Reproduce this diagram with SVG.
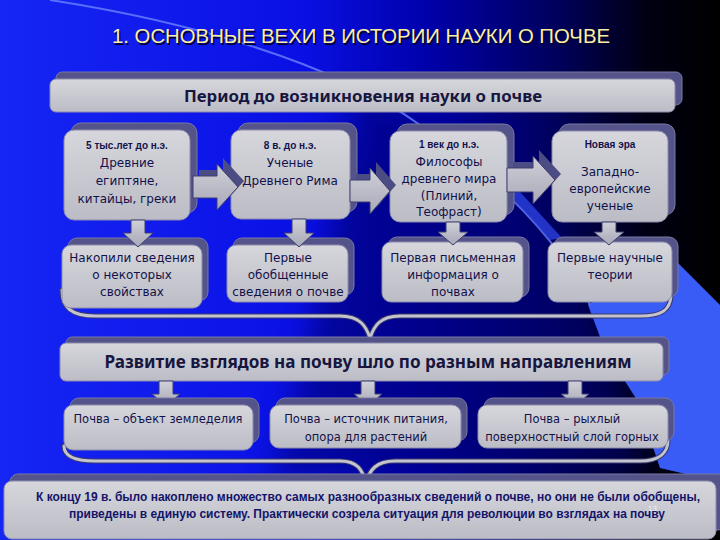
<svg xmlns="http://www.w3.org/2000/svg" width="720" height="540" viewBox="0 0 720 540">
<defs>
  <linearGradient id="bg" x1="0" y1="0" x2="720" y2="0" gradientUnits="userSpaceOnUse">
    <stop offset="0" stop-color="#1626f4"/>
    <stop offset="0.42" stop-color="#0a10e4"/>
    <stop offset="0.6" stop-color="#0000a8"/>
    <stop offset="0.78" stop-color="#000058"/>
    <stop offset="0.9" stop-color="#000012"/>
    <stop offset="1" stop-color="#000000"/>
  </linearGradient>
  <linearGradient id="boxg" x1="0" y1="0" x2="0" y2="1">
    <stop offset="0" stop-color="#d6d6dc"/>
    <stop offset="1" stop-color="#bcbcc6"/>
  </linearGradient>
  <linearGradient id="arrg" x1="0" y1="0" x2="0" y2="1">
    <stop offset="0" stop-color="#d0d0d8"/>
    <stop offset="1" stop-color="#a8a8b8"/>
  </linearGradient>
  <filter id="soft" x="-20%" y="-20%" width="140%" height="140%">
    <feGaussianBlur stdDeviation="14"/>
  </filter>
  <style>
    .box { fill: url(#boxg); stroke: #8c8cac; stroke-width: 1; }
    .sh { fill: #54548a; stroke: #7878a4; stroke-width: 1; }
    .arr { fill: url(#arrg); stroke: #3c3c70; stroke-width: 1; }
    .arrsh { fill: #4c4c84; }
    .brO { fill: none; stroke: #3a3a6c; stroke-width: 5; stroke-linecap: round; stroke-linejoin: round; }
    .brI { fill: none; stroke: #c4c4d0; stroke-width: 3; stroke-linecap: round; stroke-linejoin: round; }
    .t { font-family: "DejaVu Sans", Verdana, sans-serif; font-size: 12px; fill: #12124a; text-anchor: middle; }
    .s { font-family: "DejaVu Sans", Verdana, sans-serif; font-size: 11.5px; fill: #12124a; text-anchor: middle; }
    .d { font-family: "Liberation Sans", Arial, sans-serif; font-size: 10px; font-weight: bold; fill: #12124a; text-anchor: middle; }
    .bn { font-family: "Noto Sans", "Open Sans", sans-serif; font-weight: bold; fill: #16163e; text-anchor: middle; }
    .bt { font-family: "Liberation Sans", Arial, sans-serif; font-weight: bold; font-size: 12px; fill: #14146a; text-anchor: middle; }
  </style>
</defs>

<!-- background -->
<rect x="0" y="0" width="720" height="540" fill="url(#bg)"/>
<path d="M360,90 C470,140 560,230 600,330 L650,470 L270,480 C300,380 330,250 360,90 Z" fill="#000070" opacity="0.55" filter="url(#soft)"/>
<polygon points="588,305 605,350 637,400 660,468 720,482 720,305 665,250" fill="#3a5cf6"/>
<path d="M50,0 C180,20 330,60 420,125 C500,180 560,240 590,305" fill="none" stroke="#6a82ff" stroke-width="2" opacity="0.8"/>
<path d="M505,190 L520,192 L562,238 L550,240 Z" fill="#3048f0" opacity="0.7"/>

<!-- title -->
<g id="title">
  <text x="362.5" y="44.5" font-family="Liberation Sans, Arial, sans-serif" font-size="20" fill="#000030" text-anchor="middle" textLength="498" lengthAdjust="spacingAndGlyphs">1. ОСНОВНЫЕ ВЕХИ В ИСТОРИИ НАУКИ О ПОЧВЕ</text>
  <text x="361" y="43" font-family="Liberation Sans, Arial, sans-serif" font-size="20" fill="#fbeea2" text-anchor="middle" textLength="498" lengthAdjust="spacingAndGlyphs">1. ОСНОВНЫЕ ВЕХИ В ИСТОРИИ НАУКИ О ПОЧВЕ</text>
</g>

<!-- connectors -->
<g id="connectors">
  <path class="brO" d="M62,290 C62,308 72,316 95,316 L340,316 C360,316 366,326 370,338 C374,326 380,316 400,316 L640,316 C662,316 670,310 671,296"/>
  <path class="brI" d="M62,290 C62,308 72,316 95,316 L340,316 C360,316 366,326 370,338 C374,326 380,316 400,316 L640,316 C662,316 670,310 671,296"/>
  <path class="brO" d="M64,446 C64,456 74,461 95,461 L340,461 C358,461 362,470 366,482 C370,470 376,461 395,461 L640,461 C660,461 668,452 668,440"/>
  <path class="brI" d="M64,446 C64,456 74,461 95,461 L340,461 C358,461 362,470 366,482 C370,470 376,461 395,461 L640,461 C660,461 668,452 668,440"/>
</g>

<!-- top banner -->
<g id="period">
  <rect class="sh" x="56" y="72" width="626" height="33" rx="6"/>
  <rect class="box" x="50" y="79" width="625" height="33" rx="6"/>
  <text class="bn" x="363" y="102" font-size="15.5" textLength="358" lengthAdjust="spacingAndGlyphs">Период до возникновения науки о почве</text>
</g>

<!-- row 1 -->
<g id="n1">
  <rect class="sh" x="71" y="123" width="126" height="90" rx="10"/>
  <rect class="box" x="64" y="130" width="126" height="90" rx="10"/>
  <text class="d" x="127" y="149">5 тыс.лет до н.э.</text>
  <text class="t" x="127" y="167">Древние</text>
  <text class="t" x="127" y="185">египтяне,</text>
  <text class="t" x="127" y="203">китайцы, греки</text>
</g>
<g id="n2">
  <rect class="sh" x="238" y="123" width="119" height="89" rx="10"/>
  <rect class="box" x="231" y="130" width="119" height="89" rx="10"/>
  <text class="d" x="290" y="149">8 в. до н.э.</text>
  <text class="t" x="290" y="167">Ученые</text>
  <text class="t" x="290" y="185">Древнего Рима</text>
</g>
<g id="n3">
  <rect class="sh" x="397" y="124" width="117" height="91" rx="10"/>
  <rect class="box" x="390" y="131" width="117" height="91" rx="10"/>
  <text class="d" x="449" y="148">1 век до н.э.</text>
  <text class="t" x="449" y="166">Философы</text>
  <text class="t" x="449" y="183">древнего мира</text>
  <text class="t" x="449" y="200">(Плиний,</text>
  <text class="t" x="449" y="216">Теофраст)</text>
</g>
<g id="n4">
  <rect class="sh" x="559" y="124" width="116" height="91" rx="10"/>
  <rect class="box" x="552" y="131" width="116" height="91" rx="10"/>
  <text class="d" x="610" y="148">Новая эра</text>
  <text class="t" x="610" y="176">Западно-</text>
  <text class="t" x="610" y="193">европейские</text>
  <text class="t" x="610" y="210">ученые</text>
</g>

<!-- row 2 -->
<g id="m1">
  <rect class="sh" x="68" y="238" width="140" height="63" rx="9"/>
  <rect class="box" x="62" y="245" width="140" height="63" rx="9"/>
  <text class="t" x="132" y="262">Накопили сведения</text>
  <text class="t" x="132" y="279">о некоторых</text>
  <text class="t" x="132" y="296">свойствах</text>
</g>
<g id="m2">
  <rect class="sh" x="233" y="238" width="121" height="57" rx="9"/>
  <rect class="box" x="227" y="245" width="121" height="57" rx="9"/>
  <text class="t" x="288" y="262">Первые</text>
  <text class="t" x="288" y="279">обобщенные</text>
  <text class="t" x="288" y="296">сведения о почве</text>
</g>
<g id="m3">
  <rect class="sh" x="388" y="237" width="141" height="60" rx="9"/>
  <rect class="box" x="382" y="242" width="141" height="60" rx="9"/>
  <text class="t" x="453" y="262">Первая письменная</text>
  <text class="t" x="453" y="279">информация о</text>
  <text class="t" x="453" y="296">почвах</text>
</g>
<g id="m4">
  <rect class="sh" x="554" y="237" width="124" height="60" rx="9"/>
  <rect class="box" x="548" y="242" width="124" height="60" rx="9"/>
  <text class="t" x="610" y="262">Первые научные</text>
  <text class="t" x="610" y="279">теории</text>
</g>

<!-- arrows row 1 -->
<g id="arrows">
  <path class="arrsh" d="M199,170 H223 V158 L244,181 L223,204 V192 H199 Z"/>
  <path class="arr" d="M193,176 H217 V164 L238,187 L217,210 V198 H193 Z"/>
  <path class="arrsh" d="M356,174 H376 V162 L396,185 L376,208 V196 H356 Z"/>
  <path class="arr" d="M350,180 H370 V168 L390,191 L370,214 V202 H350 Z"/>
  <path class="arrsh" d="M513,162 H539 V150 L561,174 L539,198 V186 H513 Z"/>
  <path class="arr" d="M507,168 H533 V156 L555,180 L533,204 V192 H507 Z"/>
  <path class="arr" d="M131,220 H145 V233 H153 L138,247 L123,233 H131 Z"/>
  <path class="arr" d="M292,219 H306 V233 H314 L299,247 L284,233 H292 Z"/>
  <path class="arr" d="M446,222 H460 V232 H468 L453,245 L438,232 H446 Z"/>
  <path class="arr" d="M602,222 H616 V232 H624 L609,245 L594,232 H602 Z"/>
</g>

<!-- middle banner -->
<g id="directions">
  <rect class="sh" x="66" y="337" width="603" height="38" rx="6"/>
  <rect class="box" x="60" y="343" width="603" height="38" rx="6"/>
  <text class="bn" x="368" y="368" font-size="17" textLength="527" lengthAdjust="spacingAndGlyphs">Развитие взглядов на почву шло по разным направлениям</text>
</g>

<g id="arrows2">
  <path class="arr" d="M159,381 H173 V394 H180 L166,406 L152,394 H159 Z"/>
  <path class="arr" d="M361,381 H375 V394 H382 L368,406 L354,394 H361 Z"/>
  <path class="arr" d="M568,381 H582 V394 H589 L575,406 L561,394 H568 Z"/>
</g>

<!-- bottom row -->
<g id="c1">
  <rect class="sh" x="70" y="398" width="189" height="45" rx="9"/>
  <rect class="box" x="64" y="405" width="189" height="45" rx="9"/>
  <text class="s" x="158" y="423">Почва – объект земледелия</text>
</g>
<g id="c2">
  <rect class="sh" x="276" y="398" width="191" height="43" rx="9"/>
  <rect class="box" x="270" y="405" width="191" height="43" rx="9"/>
  <text class="s" x="366" y="423">Почва – источник питания,</text>
  <text class="s" x="366" y="441">опора для растений</text>
</g>
<g id="c3">
  <rect class="sh" x="484" y="398" width="190" height="43" rx="9"/>
  <rect class="box" x="478" y="405" width="190" height="43" rx="9"/>
  <text class="s" x="572" y="423">Почва – рыхлый</text>
  <text class="s" x="572" y="441">поверхностный слой горных</text>
</g>

<!-- bottom banner -->
<g id="conclusion">
  <rect class="sh" x="10" y="474" width="716" height="56" rx="8"/>
  <rect class="box" x="4" y="481" width="712" height="58" rx="8"/>
  <text class="bt" x="368" y="501" textLength="664" lengthAdjust="spacingAndGlyphs">К концу 19 в. было накоплено множество самых разнообразных сведений о почве, но они не были обобщены,</text>
  <text class="bt" x="367" y="518" textLength="596" lengthAdjust="spacingAndGlyphs">приведены в единую систему. Практически созрела ситуация для революции во взглядах на почву</text>
  <text x="648" y="511" font-family="Liberation Sans, Arial, sans-serif" font-size="8" fill="#f0f0f8">13</text>
</g>
</svg>
